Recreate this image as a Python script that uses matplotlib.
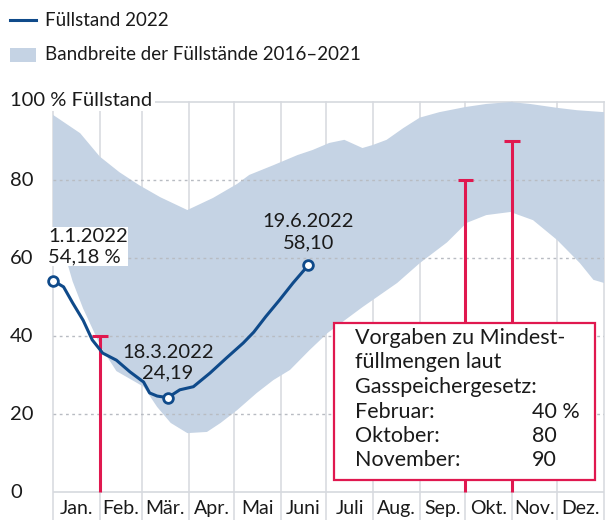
import matplotlib
matplotlib.use("Agg")
import matplotlib.pyplot as plt
from matplotlib.patches import Rectangle
from matplotlib.lines import Line2D

plt.rcParams['font.family'] = ['Lato', 'DejaVu Sans']

# Füllstand 2022 (Tag des Jahres, Prozent)
line_days = [0, 7, 13, 20, 26, 33, 42, 51, 60, 64, 69, 76, 84, 93, 104, 115, 126, 133, 141, 150, 159, 169]
line_vals = [54.18, 52.6, 48.5, 44, 39, 35.6, 33.8, 30.8, 28.2, 25.4, 24.6, 24.19, 26.2, 27.0, 30.5,
             34.4, 38.2, 41, 45, 49.2, 53.6, 58.10]

# Bandbreite 2016-2021: obere und untere Grenze
upper_days = [0, 18, 31, 44, 57, 71, 89, 106, 122, 130, 146, 162, 172, 183, 193, 205, 212, 221, 232,
              243, 256, 273, 287, 303, 316, 334, 347, 365]
upper_vals = [96.7, 92, 86, 82, 78.7, 75.6, 72.3, 75.4, 79, 81.3, 83.8, 86.4, 87.7, 89.5, 90.3, 88.2,
              89, 90.3, 93.3, 96, 97.4, 98.7, 99.5, 100, 99.5, 98.5, 97.9, 97.4]
lower_days = [0, 7, 13, 20, 26, 32, 42, 51, 60, 69, 78, 89, 102, 111, 122, 135, 146, 157, 170, 182,
              205, 228, 243, 261, 274, 287, 303, 318, 334, 349, 358, 365]
lower_vals = [66, 62, 54, 47, 42, 37, 31, 29, 27, 21.8, 17.7, 15.1, 15.4, 17.7, 21, 25.4, 28.7, 31.3,
              36.4, 40.8, 47.4, 53.6, 58.7, 64, 69, 71, 71.8, 69.7, 64.6, 58.7, 54.4, 53.6]

# Markierte Punkte
mark_days = [0, 76, 169]
mark_vals = [54.18, 24.19, 58.10]

# Vorgaben Gasspeichergesetz
req_days = [31, 273, 304]
req_vals = [40, 80, 90]

month_starts = [0, 31, 59, 90, 120, 151, 181, 212, 243, 273, 304, 334, 365]
month_labels = ['Jan.', 'Feb.', 'Mär.', 'Apr.', 'Mai', 'Juni', 'Juli', 'Aug.', 'Sep.', 'Okt.', 'Nov.', 'Dez.']
y_ticks = [0, 20, 40, 60, 80]

W, H = 605, 520
BLUE = '#0f4a8a'
BAND = '#c5d3e4'
RED = '#e0184f'
TXT = '#1a1a1a'


def fx(px):
    return px / W


def fy(py):
    return 1 - py / H


fig = plt.figure(figsize=(W / 100, H / 100), dpi=100)
ax = fig.add_axes([fx(53), 0, (604 - 53) / W, (520 - 102) / H])
ax.set_xlim(0, 365)
ax.set_ylim(-7.18, 100)
ax.axis('off')

# Raster
for d in month_starts:
    ax.plot([d, d], [-7.18, 100], color='#d6d9de', lw=1.1, zorder=1, clip_on=False)
for v in [20, 40, 60, 80]:
    ax.plot([0, 365], [v, v], color='#b8bcc2', lw=1, ls=(0, (2, 2.5)), zorder=3)
ax.plot([0, 365], [0, 0], color='#d6d9de', lw=1.2, zorder=1)
ax.plot([0, 365], [100, 100], color='#d6d9de', lw=1.2, zorder=1, clip_on=False)

# Band als Polygon aus oberer und unterer Grenze
ax.fill(upper_days + lower_days[::-1], upper_vals + lower_vals[::-1], color=BAND, lw=0, zorder=2)

# Vorgaben
for d, v in zip(req_days, req_vals):
    ax.plot([d, d], [0, v], color=RED, lw=2.2, zorder=4, solid_capstyle='butt')
    ax.plot([d - 5, d + 5.5], [v, v], color=RED, lw=2.2, zorder=4, solid_capstyle='butt')

# Linie 2022
ax.plot(line_days, line_vals, color=BLUE, lw=2.2, zorder=5, solid_joinstyle='round')
ax.plot(mark_days, mark_vals, 'o', ms=7, mfc='white', mec=BLUE, mew=2, zorder=6, clip_on=False)

fs = 14.5
ax.text(-3.3, 58.2, '1.1.2022\n54,18 %', fontsize=fs, color=TXT, ha='left', va='bottom',
        linespacing=1.25, zorder=7, bbox=dict(fc='white', ec='none', pad=0.5))
ax.text(76, 28.4, '18.3.2022\n24,19', fontsize=fs, color=TXT, ha='center', va='bottom',
        linespacing=1.25, zorder=7)
ax.text(169, 61.8, '19.6.2022\n58,10', fontsize=fs, color=TXT, ha='center', va='bottom',
        linespacing=1.25, zorder=7)

# Monatsbeschriftung
for i, lab in enumerate(month_labels):
    ax.text((month_starts[i] + month_starts[i + 1]) / 2, -4.3, lab, fontsize=14, color=TXT,
            ha='center', va='center', zorder=7)

# y-Achse
for v in y_ticks:
    fig.text(fx(10), fy(492 - v * 3.9), str(v), fontsize=fs, color=TXT, ha='left', va='center')
fig.text(fx(10), fy(100), '100 % Füllstand', fontsize=fs, color=TXT, ha='left', va='center',
         bbox=dict(fc='white', ec='none', pad=2))

# Legende oben
fig.add_artist(Line2D([fx(10), fx(36)], [fy(20), fy(20)], color=BLUE, lw=2.2))
fig.text(fx(45), fy(20), 'Füllstand 2022', fontsize=13.5, color=TXT, ha='left', va='center')
fig.add_artist(Rectangle((fx(10), fy(62)), fx(26), 14 / H, color=BAND, lw=0))
fig.text(fx(45), fy(54), 'Bandbreite der Füllstände 2016–2021', fontsize=13.5, color=TXT,
         ha='left', va='center')

# Infokasten
fig.add_artist(Rectangle((fx(334), fy(480)), fx(595 - 334), (480 - 323) / H, fc='white',
                         ec=RED, lw=1.6, zorder=8))
bfs = 15.5
box_lines = ['Vorgaben zu Mindest-', 'füllmengen laut', 'Gasspeichergesetz:']
for i, t in enumerate(box_lines):
    fig.text(fx(355), fy(338 + i * 24.5), t, fontsize=bfs, color=TXT, ha='left', va='center', zorder=9)
box_names = ['Februar:', 'Oktober:', 'November:']
box_vals = ['40 %', '80', '90']
for i, (n, v) in enumerate(zip(box_names, box_vals)):
    yy = 338 + (i + 3) * 24.5
    fig.text(fx(355), fy(yy), n, fontsize=bfs, color=TXT, ha='left', va='center', zorder=9)
    fig.text(fx(532), fy(yy), v, fontsize=bfs, color=TXT, ha='left', va='center', zorder=9)

fig.savefig('out.png', dpi=100)
